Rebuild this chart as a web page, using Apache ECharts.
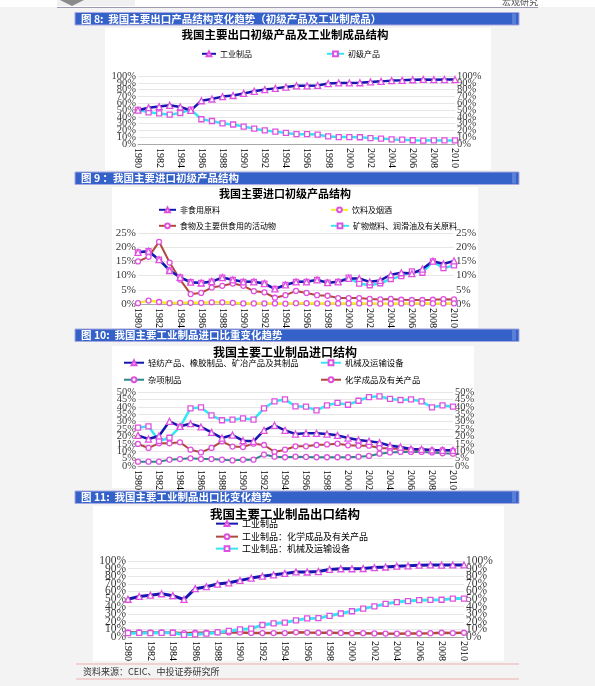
<!DOCTYPE html>
<html><head><meta charset="utf-8">
<script src="https://cdn.jsdelivr.net/npm/echarts@6/dist/echarts.min.js"></script>
<style>html,body{margin:0;padding:0;background:#f3f3f3;}#c{width:595px;height:686px;}</style>
</head><body><div id="c"></div>
<script>
// ---- categories ----
const years = ['1980','1981','1982','1983','1984','1985','1986','1987','1988','1989','1990','1991','1992','1993','1994','1995','1996','1997','1998','1999','2000','2001','2002','2003','2004','2005','2006','2007','2008','2009','2010'];
// ---- y tick labels ----
const ticks100 = [0,10,20,30,40,50,60,70,80,90,100];
const ticks25  = [0,5,10,15,20,25];
const ticks50  = [0,5,10,15,20,25,30,35,40,45,50];
// ---- chart 1 / chart 4: export structure ----
const exportManuf   = [49.7,53.4,55.0,56.9,54.4,49.4,63.6,66.2,69.7,71.3,74.4,77.5,80.0,81.8,83.7,85.6,85.5,86.1,88.9,89.8,89.8,90.1,91.3,92.1,93.2,93.6,94.5,94.9,94.6,94.8,94.8];
const exportPrimary = [50.3,46.6,45.0,43.1,45.6,50.6,36.4,33.8,30.3,28.7,25.6,22.5,20.0,18.2,16.3,14.4,14.5,13.9,11.1,10.2,10.2,9.9,8.7,7.9,6.8,6.4,5.5,5.1,5.4,5.2,5.2];
// ---- chart 2: primary import structure ----
const impNonFood  = [18.2,18.6,15.6,11.8,9.4,7.7,7.4,7.9,9.3,8.5,7.8,7.8,7.2,5.3,6.7,7.8,7.8,8.5,7.5,7.8,9.0,9.0,7.8,8.3,10.3,11.0,10.7,12.3,15.1,14.1,15.2];
const impBeverage = [0.3,1.2,0.7,0.3,0.4,0.4,0.4,0.6,0.6,0.4,0.2,0.2,0.2,0.2,0.1,0.3,0.3,0.2,0.2,0.2,0.2,0.2,0.2,0.1,0.1,0.2,0.2,0.2,0.2,0.2,0.2];
const impFood     = [15.0,16.6,21.9,14.6,8.6,3.5,3.9,5.8,6.4,7.2,6.4,4.5,4.1,2.2,3.1,4.6,3.9,3.1,2.9,2.1,2.1,2.1,1.8,1.6,1.8,1.5,1.4,1.4,1.5,1.7,1.6];
const impFuel     = [18.2,18.6,15.6,11.8,9.4,7.7,7.4,7.9,9.3,8.5,7.8,7.8,7.2,5.3,6.7,7.8,7.8,8.5,7.5,7.8,9.3,7.2,6.6,7.3,8.8,9.8,11.5,11.0,15.0,12.6,13.6];
// ---- chart 3: manufactured import structure ----
const impLight = [20.7,18.2,20.3,30.2,26.8,28.6,26.4,22.7,18.9,20.9,17.1,16.7,24.1,27.5,24.1,21.6,22.1,22.1,21.6,20.7,18.9,17.6,16.7,15.8,13.7,12.8,11.5,11.3,10.8,10.6,10.6];
const impMach  = [25.9,26.8,16.9,19.1,26.5,39.0,39.6,34.2,30.9,31.3,32.2,31.3,39.0,43.7,45.0,40.3,40.1,37.6,41.0,42.6,41.4,44.1,46.6,47.1,45.3,44.6,45.0,43.7,39.6,41.0,40.1];
const impMisc  = [2.9,2.9,2.9,4.3,4.7,5.2,4.7,4.7,4.3,3.8,4.3,4.3,7.7,6.3,5.9,6.3,6.1,5.9,5.9,5.9,5.9,6.3,6.8,8.3,9.2,9.5,9.5,9.5,9.2,8.6,8.3];
const impChem  = [14.9,12.2,15.3,15.3,16.0,11.0,9.2,12.2,16.7,13.1,12.8,15.1,14.2,9.5,11.0,13.3,13.3,14.2,14.6,15.1,14.0,13.7,13.7,12.2,11.9,11.5,11.0,10.8,10.6,10.8,10.4];
// ---- chart 4: manufactured export structure ----
const expChem = [6.2,6.1,5.9,6.0,5.8,5.0,5.6,5.7,6.1,6.0,6.0,5.3,5.1,5.1,5.2,6.1,5.8,5.6,5.6,5.3,4.9,5.0,4.7,4.5,4.4,4.7,4.6,5.0,5.6,5.2,5.6];
const expMach = [5.0,5.3,5.2,5.5,5.6,2.8,3.5,4.4,6.0,8.0,10.0,11.0,15.8,17.9,19.0,21.9,24.5,24.8,27.9,30.9,33.9,37.3,40.3,43.6,46.0,47.3,48.5,48.8,49.0,50.5,50.5];

const CJK = 'Noto Sans CJK SC';
const SERIF = 'Liberation Serif';
const NAVY = '#1515b0', CYAN = '#33e8f2', BROWN = '#b04a3a', YELLOW = '#f5ee2a', TEAL = '#2a8a8a', PINK = '#e050e0';

const grids = [
  {left:138, top:76,  width:317, height:68},
  {left:138, top:233, width:316, height:71},
  {left:138, top:392, width:315, height:74},
  {left:128, top:561, width:336, height:76}
];
const yConf = [
  {max:100, interval:10, fs:10.5, ticks:ticks100},
  {max:25, interval:5, fs:11, ticks:ticks25},
  {max:50, interval:5, fs:10.5, ticks:ticks50},
  {max:100, interval:10, fs:11.5, ticks:ticks100}
];
const xAxes = [], yAxes = [];
grids.forEach((g, i) => {
  xAxes.push({gridIndex:i, type:'category', data:years, boundaryGap:false,
    axisLine:{lineStyle:{color:'#aaa'}}, axisTick:{show:false},
    axisLabel:{rotate:-90, interval:1, fontFamily:SERIF, fontSize:10, color:'#000', margin:4},
    splitLine:{show:false}});
  ['left','right'].forEach(pos => {
    yAxes.push({gridIndex:i, type:'value', min:0, max:yConf[i].max, interval:yConf[i].interval, position:pos,
      axisLine:{show:false}, axisTick:{show:false}, axisLabel:{show:false},
      splitLine:{show:pos==='left', lineStyle:{color:'#e6e6e6', width:1}}});
  });
});

function ser(name, gi, data, color, symbol, lw) {
  return {name, type:'line', xAxisIndex:gi, yAxisIndex:gi*2, data,
    symbol, symbolSize: symbol==='triangle' ? 6 : 5,
    lineStyle:{color, width:lw || 2.5},
    itemStyle:{color:'#ffffff', borderColor:PINK, borderWidth:1.3},
    emphasis:{disabled:true}};
}
const series = [
  ser('初级产品', 0, exportPrimary, CYAN, 'rect'),
  ser('工业制品', 0, exportManuf, NAVY, 'triangle'),
  ser('食物及主要供食用的活动物', 1, impFood, BROWN, 'circle', 2),
  ser('饮料及烟酒', 1, impBeverage, YELLOW, 'circle', 2.5),
  ser('矿物燃料、润滑油及有关原料', 1, impFuel, CYAN, 'rect'),
  ser('非食用原料', 1, impNonFood, NAVY, 'triangle'),
  ser('化学成品及有关产品', 2, impChem, BROWN, 'circle', 2),
  ser('杂项制品', 2, impMisc, TEAL, 'circle', 2),
  ser('机械及运输设备', 2, impMach, CYAN, 'rect'),
  ser('轻纺产品、橡胶制品、矿冶产品及其制品', 2, impLight, NAVY, 'triangle'),
  ser('工业制品：化学成品及有关产品', 3, expChem, BROWN, 'circle', 2.5),
  ser('工业制品：机械及运输设备', 3, expMach, CYAN, 'rect', 3),
  ser('工业制品', 3, exportManuf, NAVY, 'triangle', 3)
];
// y tick labels on both sides, placed through the axes' own scales
yConf.forEach((c, gi) => {
  [['left', years[0]], ['right', years[years.length-1]]].forEach(([pos, cat]) => {
    series.push({type:'scatter', xAxisIndex:gi, yAxisIndex:gi*2, silent:true, symbolSize:0, z:1,
      data:c.ticks.map(v => [cat, v]),
      label:{show:true, position:pos, distance:2, formatter:p => p.value[1] + '%',
        fontFamily:SERIF, fontSize:c.fs, color:'#000'},
      labelLayout:{hideOverlap:false}});
  });
});

function lg(name, left, cy, w, fs) {
  return {data:[name], left, top:cy - fs*0.65, itemWidth:w, itemHeight:6, padding:0, selectedMode:false,
    textStyle:{fontFamily:CJK, fontSize:fs, color:'#000', padding:[0,0,0,-1]}};
}
const legends = [
  lg('工业制品', 201, 55, 14, 8), lg('初级产品', 326, 55, 17, 8),
  lg('非食用原料', 158, 211, 17, 8), lg('饮料及烟酒', 330, 211, 17, 8),
  lg('食物及主要供食用的活动物', 158, 227, 17, 8), lg('矿物燃料、润滑油及有关原料', 330, 227, 18, 8),
  lg('轻纺产品、橡胶制品、矿冶产品及其制品', 123, 364, 20, 8.4), lg('机械及运输设备', 320, 364, 20, 8.4),
  lg('杂项制品', 123, 381, 20, 8.4), lg('化学成品及有关产品', 320, 381, 20, 8.4),
  lg('工业制品', 215, 525, 22, 9), lg('工业制品：化学成品及有关产品', 215, 538, 22, 9), lg('工业制品：机械及运输设备', 215, 550, 22, 9)
];

function ttl(text, cy, fs) {
  return {text, left:285, top:cy - fs/2 - 1, textAlign:'center', padding:0,
    textStyle:{fontFamily:CJK, fontSize:fs, fontWeight:'bold', color:'#000'}};
}
const titles = [
  ttl('我国主要出口初级产品及工业制成品结构', 36, 11.5),
  ttl('我国主要进口初级产品结构', 195, 11),
  ttl('我国主要工业制品进口结构', 353, 12),
  ttl('我国主要工业制品出口结构', 515, 12.5)
];

const headerTexts = [
  ['图 8:  我国主要出口产品结构变化趋势（初级产品及工业制成品）', 12.5],
  ['图 9 ：我国主要进口初级产品结构', 172],
  ['图 10:  我国主要工业制品进口比重变化趋势', 329],
  ['图 11:  我国主要工业制品出口比变化趋势', 491]
];
const graphic = [
  {type:'rect', shape:{x:0, y:0, width:595, height:7}, style:{fill:'#ffffff'}, z:-5},
  {type:'rect', shape:{x:57, y:0, width:78, height:6}, style:{fill:'#f0f0f0'}, z:-4},
  {type:'polygon', shape:{points:[[60,0],[84,0],[72,6]]}, style:{fill:'#8a8a8a'}, z:-3},
  {type:'line', shape:{x1:57, y1:7.5, x2:538, y2:7.5}, style:{stroke:'#9a9ab0', lineWidth:1}},
  {type:'text', x:520, y:2, style:{text:'宏观研究', fontFamily:CJK, fontSize:9, fill:'#555', align:'center', verticalAlign:'middle'}},
  {type:'rect', shape:{x:105, y:28, width:386, height:142}, style:{fill:'#ffffff'}, z:-5},
  {type:'rect', shape:{x:112, y:187, width:366, height:141}, style:{fill:'#ffffff'}, z:-5},
  {type:'rect', shape:{x:112, y:346, width:362, height:142}, style:{fill:'#ffffff'}, z:-5},
  {type:'rect', shape:{x:93, y:506, width:411, height:155}, style:{fill:'#ffffff'}, z:-5},
  {type:'line', shape:{x1:76, y1:664, x2:519, y2:664}, style:{stroke:'#f0c4c4', lineWidth:1.5}},
  {type:'line', shape:{x1:76, y1:679, x2:519, y2:679}, style:{stroke:'#f0c4c4', lineWidth:1.5}},
  {type:'text', x:83, y:671.5, style:{text:'资料来源：CEIC、中投证券研究所', fontFamily:CJK, fontSize:9, fill:'#333', verticalAlign:'middle'}}
];
headerTexts.forEach(([t, y]) => {
  graphic.push({type:'rect', shape:{x:75, y, width:444, height:12.5}, style:{fill:'#3562c8', stroke:'#a9a9e2', lineWidth:1}});
  graphic.push({type:'rect', shape:{x:512, y:y+1, width:4, height:10.5}, style:{fill:'#5a7fd8'}});
  graphic.push({type:'text', x:81, y:y+6.5, style:{text:t, fontFamily:CJK, fontSize:10.5, fontWeight:'bold', fill:'#ffffff', verticalAlign:'middle'}});
});

const chart = echarts.init(document.getElementById('c'), null, {renderer:'canvas'});
chart.setOption({
  animation:false,
  backgroundColor:'#f3f3f3',
  title:titles,
  legend:legends,
  grid:grids,
  xAxis:xAxes,
  yAxis:yAxes,
  series,
  graphic
});
</script></body></html>
